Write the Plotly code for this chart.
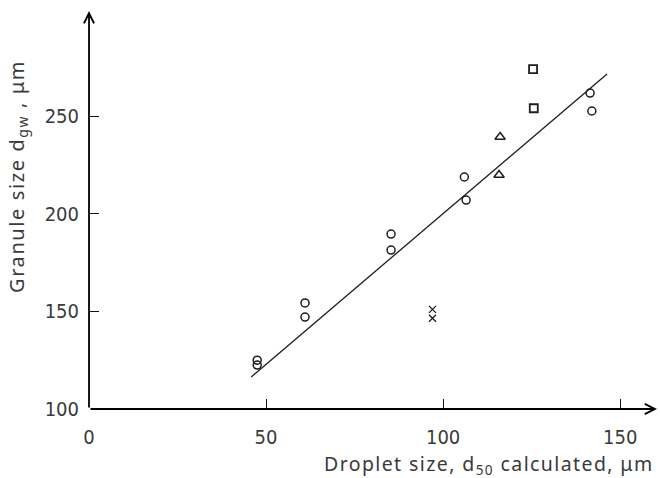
import plotly.graph_objects as go

# ---- data ----
circles_x = [47.5, 47.5, 61.0, 61.0, 85.3, 85.3, 106.0, 106.5, 141.5, 142.0]
circles_y = [125.0, 122.5, 154.3, 147.1, 189.6, 181.4, 218.8, 207.0, 261.8, 252.6]
squares_x = [125.4, 125.6]
squares_y = [274.0, 254.0]
triangles_x = [116.1, 115.8]
triangles_y = [239.3, 219.8]
crosses_x = [97.0, 97.0]
crosses_y = [151.0, 146.5]
fit_x = [45.8, 146.3]
fit_y = [116.4, 271.5]

x_ticks = [0, 50, 100, 150]
y_ticks = [100, 150, 200, 250]
X_MIN, X_MAX = 0, 160.4
Y_MIN, Y_MAX = 100, 303.8

INK = "#1e1e1e"
TXT = "#3a3a3a"
TICKFONT = "Liberation Sans Narrow, DejaVu Sans Condensed, Roboto, Noto Sans"
TITLEFONT = "Noto Sans"

fig = go.Figure()

fig.add_trace(go.Scatter(x=fit_x, y=fit_y, mode="lines",
                         line=dict(color=INK, width=1.3), showlegend=False))
fig.add_trace(go.Scatter(x=circles_x, y=circles_y, mode="markers",
                         marker=dict(symbol="circle-open", size=8, color=INK,
                                     line=dict(width=1.5, color=INK)),
                         showlegend=False))
fig.add_trace(go.Scatter(x=squares_x, y=squares_y, mode="markers",
                         marker=dict(symbol="square-open", size=8, color=INK,
                                     line=dict(width=1.8, color=INK)),
                         showlegend=False))
fig.add_trace(go.Scatter(x=triangles_x, y=triangles_y, mode="markers",
                         marker=dict(symbol="triangle-up-open", size=9, color=INK,
                                     line=dict(width=1.5, color=INK)),
                         showlegend=False))
fig.add_trace(go.Scatter(x=crosses_x, y=crosses_y, mode="markers",
                         marker=dict(symbol="x-thin-open", size=7, color=INK,
                                     line=dict(width=1.3, color=INK)),
                         showlegend=False))

# axis lines with open arrowheads
fig.add_annotation(x=X_MAX, y=Y_MIN, ax=X_MIN, ay=Y_MIN, xref="x", yref="y",
                   axref="x", ayref="y", text="", showarrow=True,
                   arrowhead=5, arrowsize=1.1, arrowwidth=1.8, arrowcolor="#000")
fig.add_annotation(x=X_MIN, y=Y_MAX, ax=X_MIN, ay=Y_MIN, xref="x", yref="y",
                   axref="x", ayref="y", text="", showarrow=True,
                   arrowhead=5, arrowsize=1.1, arrowwidth=1.8, arrowcolor="#000")

# axis titles
fig.add_annotation(text='<span style="letter-spacing:1.4px">Droplet size, d<sub>50</sub> calculated, μm</span>',
                   xref="paper", yref="paper", x=0.998, y=-0.14,
                   xanchor="right", yanchor="middle", showarrow=False,
                   font=dict(family=TITLEFONT, size=19.5, color=TXT))
fig.add_annotation(text='<span style="letter-spacing:1.6px">Granule size d<sub>gw</sub> , μm</span>',
                   xref="paper", yref="paper", x=-0.127, y=0.585,
                   xanchor="center", yanchor="middle", textangle=-90, showarrow=False,
                   font=dict(family=TITLEFONT, size=20, color=TXT))

fig.update_layout(
    width=660, height=478,
    margin=dict(l=89, r=3, t=11, b=69),
    paper_bgcolor="white", plot_bgcolor="white",
    font=dict(family=TITLEFONT, size=16, color=TXT),
    xaxis=dict(range=[X_MIN, X_MAX], tickvals=x_ticks, ticks="inside",
               ticklen=10, tickwidth=1.3, tickcolor="#111", showgrid=False,
               zeroline=False, showline=False, ticklabelstandoff=14,
               tickfont=dict(family=TICKFONT, size=20, color=TXT)),
    yaxis=dict(range=[Y_MIN, Y_MAX], tickvals=y_ticks, ticks="inside",
               ticklen=10, tickwidth=1.3, tickcolor="#111", showgrid=False,
               zeroline=False, showline=False, ticklabelstandoff=9,
               tickfont=dict(family=TICKFONT, size=20, color=TXT)),
)

fig.write_html("out.html")
